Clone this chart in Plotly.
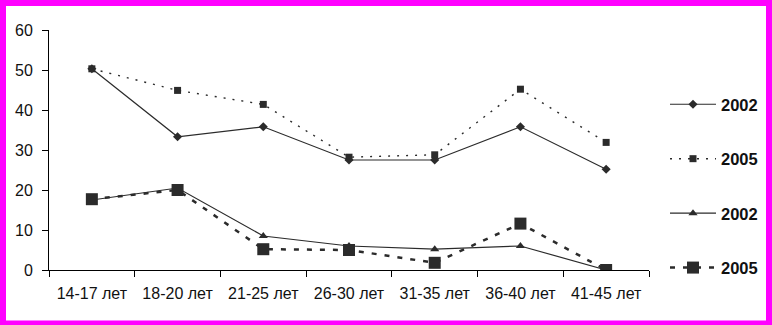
import plotly.graph_objects as go

# Age groups on the x axis
age_groups = ["14-17 лет", "18-20 лет", "21-25 лет", "26-30 лет",
              "31-35 лет", "36-40 лет", "41-45 лет"]

# Upper pair of series
upper_2002 = [50.3, 33.3, 35.8, 27.5, 27.5, 35.8, 25.2]
upper_2005 = [50.3, 44.9, 41.4, 28.2, 28.8, 45.2, 31.9]

# Lower pair of series
lower_2002 = [17.5, 20.5, 8.5, 6.0, 5.2, 6.0, 0.0]
lower_2005 = [17.7, 20.0, 5.2, 5.0, 1.8, 11.6, 0.0]

y_ticks = [0, 10, 20, 30, 40, 50, 60]

W, H = 772, 325
ML, MR, MT, MB = 49, 123, 30, 55
INK = "#2b2b2b"
FONT = "Liberation Sans, Arial, sans-serif"

fig = go.Figure()

series = [
    ("2002", upper_2002, dict(width=1.2, dash="solid"), dict(symbol="diamond", size=7), "g1"),
    ("2005", upper_2005, dict(width=1.4, dash="2px,7px"), dict(symbol="square", size=7), "g2"),
    ("2002", lower_2002, dict(width=1.2, dash="solid"), dict(symbol="triangle-up", size=8), "g3"),
    ("2005", lower_2005, dict(width=2.5, dash="5px,8px"), dict(symbol="square", size=12), "g4"),
]

for name, vals, line, marker, grp in series:
    fig.add_trace(go.Scatter(
        x=age_groups, y=vals, name=name, mode="lines+markers",
        legendgroup=grp,
        line=dict(color=INK, **line),
        marker=dict(color=INK, line=dict(width=0), **marker),
    ))

# Magenta frame around the whole figure, drawn as four strips
pw = W - ML - MR
ph = H - MT - MB

def px_to_paper_x(px):
    return (px - ML) / pw

def px_to_paper_y(py):
    return (H - MB - py) / ph

frame = [(0, 0, W, 6), (0, 0, 6, H), (W - 6, 0, W, H), (0, H - 4.5, W, H)]
for x0, y0, x1, y1 in frame:
    fig.add_shape(type="rect", xref="paper", yref="paper",
                  x0=px_to_paper_x(x0), x1=px_to_paper_x(x1),
                  y0=px_to_paper_y(y1), y1=px_to_paper_y(y0),
                  fillcolor="#ff00ff", line=dict(width=0), layer="above")

fig.update_layout(
    width=W, height=H,
    margin=dict(l=ML, r=MR, t=MT, b=MB, pad=0, autoexpand=False),
    paper_bgcolor="white", plot_bgcolor="white",
    font=dict(family=FONT, size=16, color="#111111"),
    showlegend=True,
    legend=dict(
        xref="container", yref="container",
        x=665 / W, xanchor="left", y=(H - 186) / H, yanchor="middle",
        font=dict(family=FONT, size=16.5, color="#111111", weight="bold"),
        tracegroupgap=30, itemwidth=46, bgcolor="rgba(0,0,0,0)",
        maxheight=320,
    ),
    xaxis=dict(
        type="category", range=[-0.5, 6.5], tickson="boundaries",
        showline=True, linecolor="black", linewidth=1,
        ticks="outside", ticklen=6, tickcolor="black", tickwidth=1,
        showgrid=False, zeroline=False, fixedrange=True,
        ticklabelstandoff=9,
        tickfont=dict(family=FONT, size=16, color="#111111"),
    ),
    yaxis=dict(
        range=[0, 60], tickvals=y_ticks,
        showline=True, linecolor="black", linewidth=1,
        ticks="outside", ticklen=6, tickcolor="black", tickwidth=1,
        showgrid=False, zeroline=False, fixedrange=True,
        ticklabelstandoff=6,
        tickfont=dict(family=FONT, size=16, color="#111111"),
    ),
)

fig.write_html("out.html")
